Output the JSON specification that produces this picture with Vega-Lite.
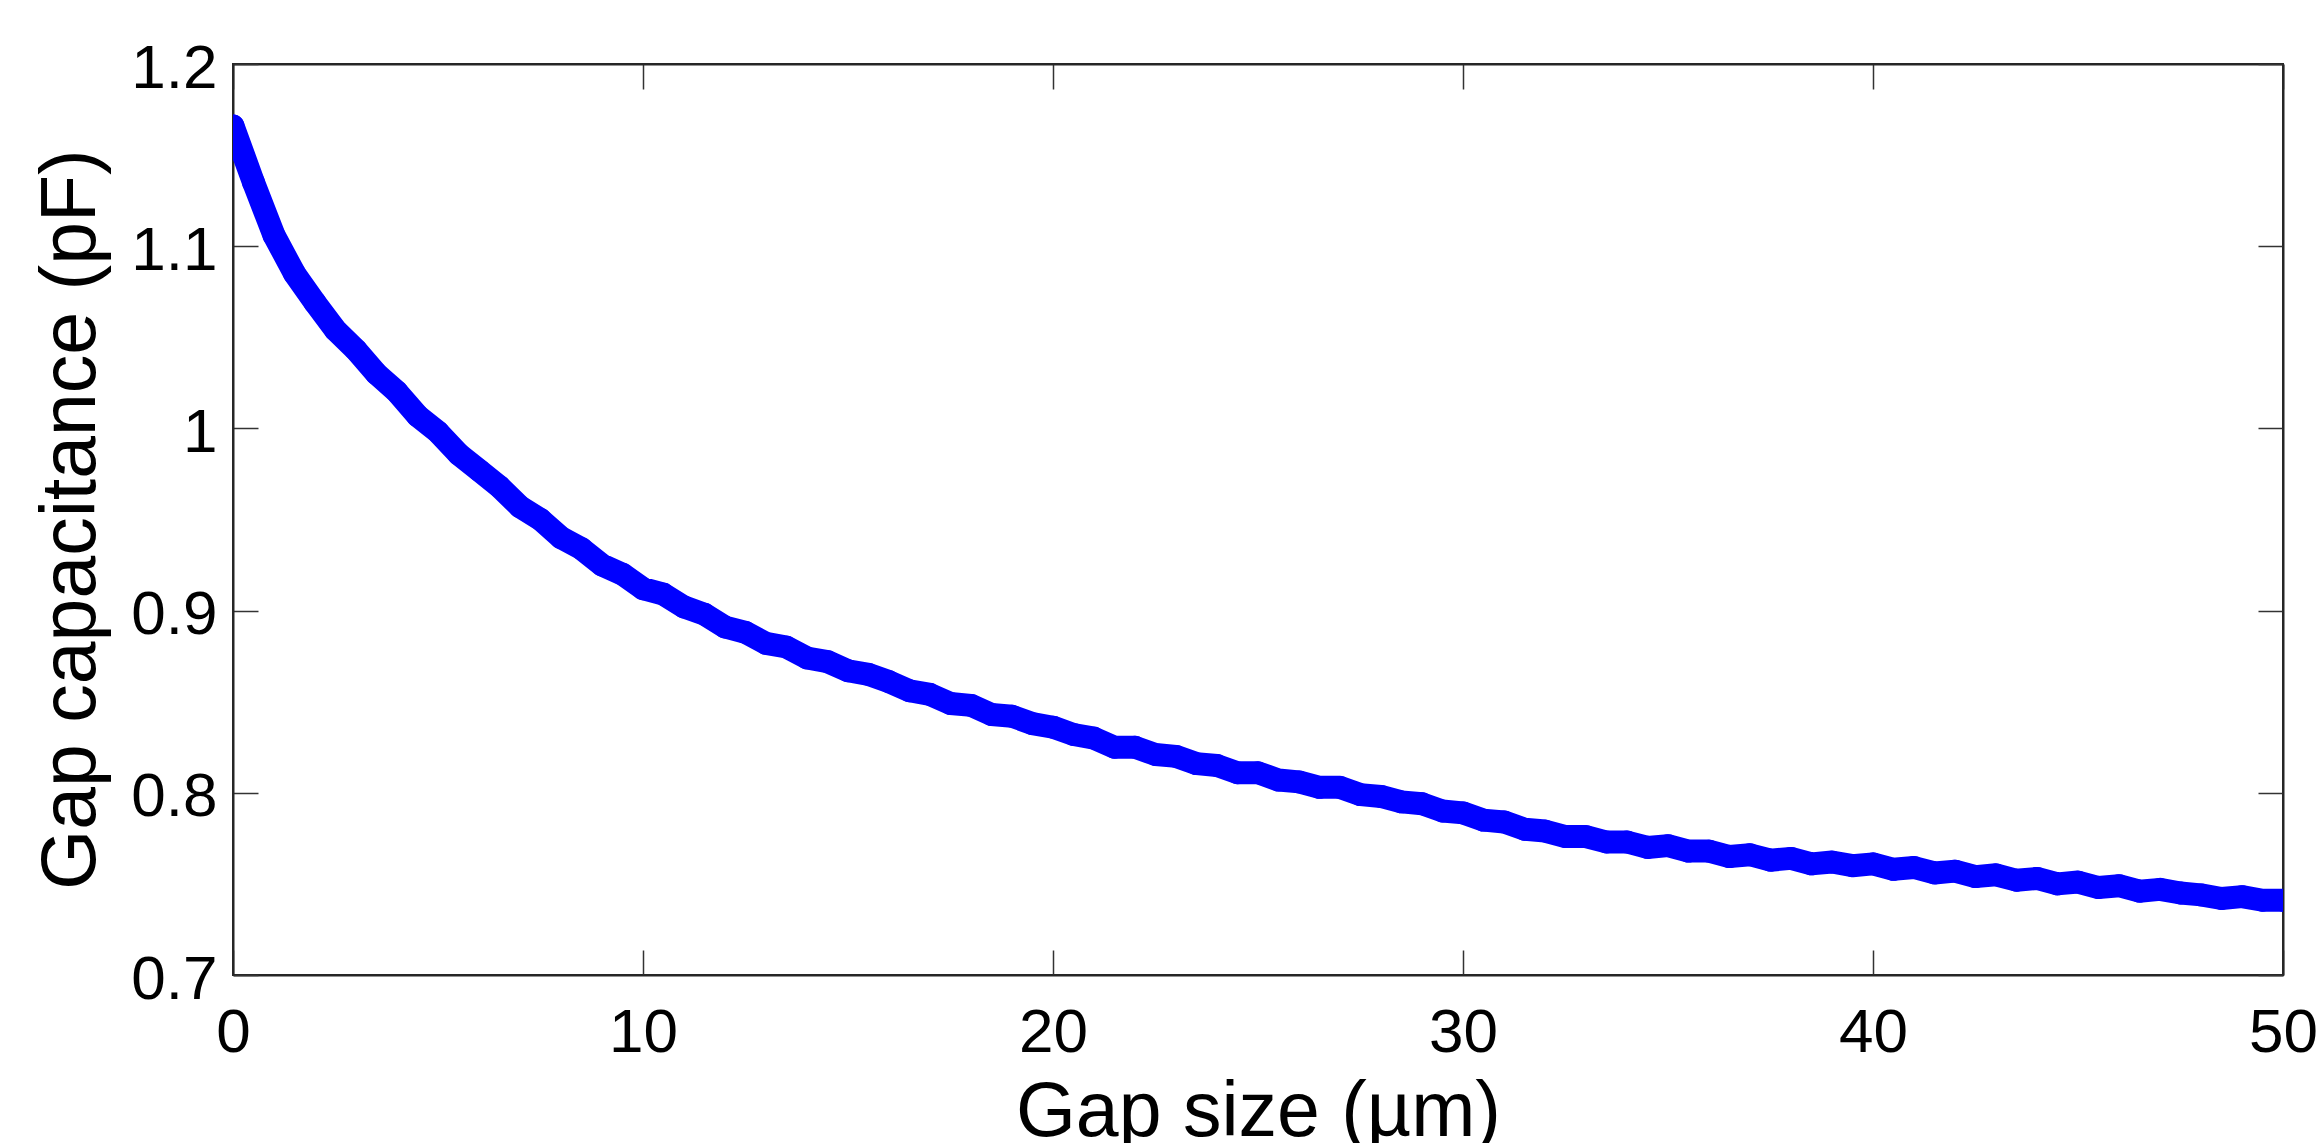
{
  "$schema": "https://vega.github.io/schema/vega-lite/v6.json",
  "width": 2050,
  "height": 911,
  "autosize": {"type": "none"},
  "padding": {"left": 233, "top": 64, "right": 34, "bottom": 168},
  "background": "white",
  "config": {
    "font": "Liberation Sans",
    "view": {"stroke": "#262626", "strokeWidth": 2},
    "axis": {
      "domainColor": "#262626",
      "domainWidth": 2,
      "tickColor": "#333333",
      "tickWidth": 1.5,
      "tickSize": -25,
      "labelFont": "Liberation Sans",
      "labelFontSize": 62,
      "labelColor": "black",
      "titleFont": "Liberation Sans",
      "titleFontSize": 77,
      "titleFontWeight": "normal",
      "titleColor": "black",
      "grid": false,
      "labelOverlap": false,
      "labelFlush": false
    }
  },
  "data": {"values": [
    {"gap": 0, "cap": 1.166}, {"gap": 0.5, "cap": 1.135}, {"gap": 1, "cap": 1.106}, {"gap": 1.5, "cap": 1.085},
    {"gap": 2, "cap": 1.069}, {"gap": 2.5, "cap": 1.054}, {"gap": 3, "cap": 1.043}, {"gap": 3.5, "cap": 1.030},
    {"gap": 4, "cap": 1.020}, {"gap": 4.5, "cap": 1.007}, {"gap": 5, "cap": 0.998}, {"gap": 5.5, "cap": 0.986},
    {"gap": 6, "cap": 0.977}, {"gap": 6.5, "cap": 0.968}, {"gap": 7, "cap": 0.957}, {"gap": 7.5, "cap": 0.950},
    {"gap": 8, "cap": 0.940}, {"gap": 8.5, "cap": 0.934}, {"gap": 9, "cap": 0.925}, {"gap": 9.5, "cap": 0.920},
    {"gap": 10, "cap": 0.912}, {"gap": 10.5, "cap": 0.909}, {"gap": 11, "cap": 0.902}, {"gap": 11.5, "cap": 0.898},
    {"gap": 12, "cap": 0.891}, {"gap": 12.5, "cap": 0.888}, {"gap": 13, "cap": 0.882}, {"gap": 13.5, "cap": 0.880},
    {"gap": 14, "cap": 0.874}, {"gap": 14.5, "cap": 0.872}, {"gap": 15, "cap": 0.867}, {"gap": 15.5, "cap": 0.865},
    {"gap": 16, "cap": 0.861}, {"gap": 16.5, "cap": 0.856}, {"gap": 17, "cap": 0.854}, {"gap": 17.5, "cap": 0.849},
    {"gap": 18, "cap": 0.848}, {"gap": 18.5, "cap": 0.843}, {"gap": 19, "cap": 0.842}, {"gap": 19.5, "cap": 0.838},
    {"gap": 20, "cap": 0.836}, {"gap": 20.5, "cap": 0.832}, {"gap": 21, "cap": 0.830}, {"gap": 21.5, "cap": 0.825},
    {"gap": 22, "cap": 0.825}, {"gap": 22.5, "cap": 0.821}, {"gap": 23, "cap": 0.820}, {"gap": 23.5, "cap": 0.816},
    {"gap": 24, "cap": 0.815}, {"gap": 24.5, "cap": 0.811}, {"gap": 25, "cap": 0.811}, {"gap": 25.5, "cap": 0.807},
    {"gap": 26, "cap": 0.806}, {"gap": 26.5, "cap": 0.803}, {"gap": 27, "cap": 0.803}, {"gap": 27.5, "cap": 0.799},
    {"gap": 28, "cap": 0.798}, {"gap": 28.5, "cap": 0.795}, {"gap": 29, "cap": 0.794}, {"gap": 29.5, "cap": 0.790},
    {"gap": 30, "cap": 0.789}, {"gap": 30.5, "cap": 0.785}, {"gap": 31, "cap": 0.784}, {"gap": 31.5, "cap": 0.780},
    {"gap": 32, "cap": 0.779}, {"gap": 32.5, "cap": 0.776}, {"gap": 33, "cap": 0.776}, {"gap": 33.5, "cap": 0.773},
    {"gap": 34, "cap": 0.773}, {"gap": 34.5, "cap": 0.770}, {"gap": 35, "cap": 0.771}, {"gap": 35.5, "cap": 0.768},
    {"gap": 36, "cap": 0.768}, {"gap": 36.5, "cap": 0.765}, {"gap": 37, "cap": 0.766}, {"gap": 37.5, "cap": 0.763},
    {"gap": 38, "cap": 0.764}, {"gap": 38.5, "cap": 0.761}, {"gap": 39, "cap": 0.762}, {"gap": 39.5, "cap": 0.760},
    {"gap": 40, "cap": 0.761}, {"gap": 40.5, "cap": 0.758}, {"gap": 41, "cap": 0.759}, {"gap": 41.5, "cap": 0.756},
    {"gap": 42, "cap": 0.757}, {"gap": 42.5, "cap": 0.754}, {"gap": 43, "cap": 0.755}, {"gap": 43.5, "cap": 0.752},
    {"gap": 44, "cap": 0.753}, {"gap": 44.5, "cap": 0.750}, {"gap": 45, "cap": 0.751}, {"gap": 45.5, "cap": 0.748},
    {"gap": 46, "cap": 0.749}, {"gap": 46.5, "cap": 0.746}, {"gap": 47, "cap": 0.747}, {"gap": 47.5, "cap": 0.745},
    {"gap": 48, "cap": 0.744}, {"gap": 48.5, "cap": 0.742}, {"gap": 49, "cap": 0.743}, {"gap": 49.5, "cap": 0.741},
    {"gap": 50, "cap": 0.741}
  ]},
  "layer": [
    {
      "mark": {"type": "line", "color": "#0000FF", "strokeWidth": 23, "strokeCap": "round", "strokeJoin": "round", "clip": true},
      "encoding": {
        "x": {
          "field": "gap", "type": "quantitative",
          "scale": {"domain": [0, 50], "nice": false, "zero": false},
          "axis": {
            "orient": "bottom",
            "title": "Gap size (µm)",
            "values": [0, 10, 20, 30, 40, 50],
            "format": "d",
            "labelPadding": 52,
            "titleY": 160,
            "titleBaseline": "alphabetic"
          }
        },
        "y": {
          "field": "cap", "type": "quantitative",
          "scale": {"domain": [0.7, 1.2], "nice": false, "zero": false},
          "axis": {
            "orient": "left",
            "title": "Gap capacitance (pF)",
            "values": [0.7, 0.8, 0.9, 1, 1.1, 1.2],
            "format": ".1~f",
            "labelPadding": 41,
            "labelOffset": 4,
            "titleX": -139,
            "titleY": 455,
            "titleAngle": -90,
            "titleAlign": "center",
            "titleBaseline": "alphabetic"
          }
        }
      }
    },
    {
      "mark": {"type": "point", "shape": "circle", "filled": true, "color": "#0000FF", "opacity": 1, "size": 520, "clip": true},
      "encoding": {
        "x": {
          "field": "gap", "type": "quantitative",
          "scale": {"domain": [0, 50], "nice": false, "zero": false},
          "axis": {"orient": "top", "title": null, "labels": false, "values": [0, 10, 20, 30, 40, 50]}
        },
        "y": {
          "field": "cap", "type": "quantitative",
          "scale": {"domain": [0.7, 1.2], "nice": false, "zero": false},
          "axis": {"orient": "right", "title": null, "labels": false, "values": [0.7, 0.8, 0.9, 1, 1.1, 1.2]}
        }
      }
    }
  ],
  "resolve": {"axis": {"x": "independent", "y": "independent"}}
}
